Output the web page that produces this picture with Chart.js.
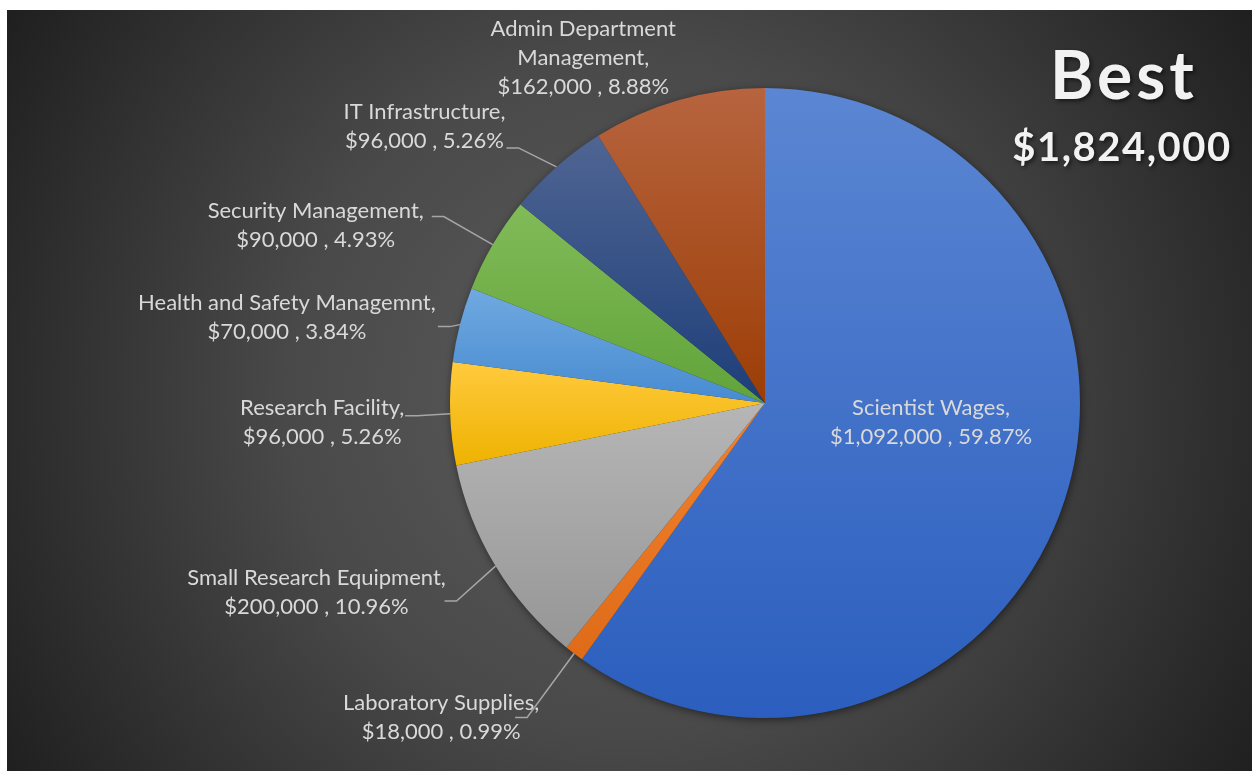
<!DOCTYPE html>
<html>
<head>
<meta charset="utf-8">
<script src="https://cdn.jsdelivr.net/npm/chart.js@4.4.1/dist/chart.umd.min.js"></script>
<style>
  html, body { margin: 0; padding: 0; background: #fff; }
  #wrap { width: 1252px; height: 772px; }
</style>
</head>
<body>
<div id="wrap"><canvas id="budgetPie" width="1252" height="772"></canvas></div>
<script>
// budget split, clockwise from 12 o'clock
const categories = [
  "Scientist Wages",
  "Laboratory Supplies",
  "Small Research Equipment",
  "Research Facility",
  "Health and Safety Managemnt",
  "Security Management",
  "IT Infrastructure",
  "Admin Department Management"
];
const amounts = [1092000, 18000, 200000, 96000, 70000, 90000, 96000, 162000];
const scenarioTitle = "Best";

// slice gradient stops (top colour, bottom colour)
const sliceTop    = ["#5b86d3", "#f2822f", "#b6b6b6", "#ffca3e", "#70a9e0", "#81bb58", "#4f6593", "#b7643f"];
const sliceBottom = ["#2b5ebe", "#df6b18", "#969696", "#eeb200", "#478bd1", "#61a33a", "#1e3e79", "#9c3d05"];

// where each label block sits relative to the slice's outer mid point;
// lx/ly = end of the leader stub relative to the block centre
const labelPlacement = [
  { dx: -134, dy: -77 },
  { dx: -133, dy: 64, lx: 74, ly: 0 },
  { dx: -179, dy: 26, lx: 128, ly: 9 },
  { dx: -128, dy: 9, lx: 83, ly: -7 },
  { dx: -173, dy: -7, lx: 151, ly: 9 },
  { dx: -177, dy: -19, lx: 116, ly: -9 },
  { dx: -132, dy: -40, lx: 82, ly: 21 },
  { dx: -95, dy: -42, wrap: 200 }
];

const LABEL_FONT = "22px Lato";
const LINE_H = 29;
const total = amounts.reduce((a, b) => a + b, 0);

function fmtMoney(n){ return "$" + String(n).replace(/\B(?=(\d{3})+(?!\d))/g, ","); }
function fmtPct(n){ return (n / total * 100).toFixed(2) + "%"; }

// vertical gradient over the bounding box of one slice
function sliceFill(context){
  const i = context.dataIndex;
  const chart = context.chart;
  const area = chart.chartArea;
  if(!area || i === undefined) return sliceTop[i] || "#888";
  const cx = (area.left + area.right) / 2, cy = (area.top + area.bottom) / 2;
  const r = Math.min(area.width, area.height) / 2;
  const before = amounts.slice(0, i).reduce((a, b) => a + b, 0);
  const a0 = -Math.PI / 2 + before / total * Math.PI * 2;
  const a1 = a0 + amounts[i] / total * Math.PI * 2;
  const ys = [cy, cy + r * Math.sin(a0), cy + r * Math.sin(a1)];
  [-Math.PI / 2, Math.PI / 2, Math.PI * 1.5].forEach(k => { if(k >= a0 && k <= a1) ys.push(cy + r * Math.sin(k)); });
  const g = chart.ctx.createLinearGradient(0, Math.min(...ys), 0, Math.max(...ys));
  g.addColorStop(0, sliceTop[i]);
  g.addColorStop(1, sliceBottom[i]);
  return g;
}

function wrapText(ctx, text, maxW){
  if(!maxW) return [text];
  const words = text.split(" ");
  const out = [];
  let line = "";
  words.forEach(w => {
    const t = line ? line + " " + w : w;
    if(ctx.measureText(t).width > maxW && line){ out.push(line); line = w; }
    else line = t;
  });
  out.push(line);
  return out;
}

// dark radial backdrop with a thin white margin top/left
const backdrop = {
  id: "backdrop",
  beforeDraw(chart){
    const ctx = chart.ctx;
    ctx.save();
    ctx.fillStyle = "#ffffff";
    ctx.fillRect(0, 0, chart.width, chart.height);
    const g = ctx.createRadialGradient(630, 395, 0, 630, 395, 760);
    g.addColorStop(0, "#5d5d5d");
    g.addColorStop(0.45, "#494949");
    g.addColorStop(1, "#1c1c1c");
    ctx.fillStyle = g;
    ctx.fillRect(7, 10, chart.width - 7, chart.height - 11);
    ctx.restore();
  }
};

// soft shadow under the pie
const pieShadow = {
  id: "pieShadow",
  beforeDatasetsDraw(chart){
    const arc = chart.getDatasetMeta(0).data[0];
    if(!arc) return;
    const ctx = chart.ctx;
    ctx.save();
    ctx.shadowColor = "rgba(0,0,0,0.55)";
    ctx.shadowBlur = 9;
    ctx.shadowOffsetX = 1;
    ctx.shadowOffsetY = 2;
    ctx.fillStyle = "#333";
    ctx.beginPath();
    ctx.arc(arc.x, arc.y, arc.outerRadius - 0.5, 0, Math.PI * 2);
    ctx.fill();
    ctx.restore();
  }
};

// category, value and share labels with leader lines
const sliceLabels = {
  id: "sliceLabels",
  afterDatasetsDraw(chart){
    const ctx = chart.ctx;
    const meta = chart.getDatasetMeta(0);
    ctx.save();
    ctx.font = LABEL_FONT;
    ctx.textAlign = "center";
    ctx.textBaseline = "middle";
    meta.data.forEach((arc, i) => {
      const { x, y, startAngle, endAngle, outerRadius } = arc.getProps(["x", "y", "startAngle", "endAngle", "outerRadius"], true);
      const mid = (startAngle + endAngle) / 2;
      const ex = x + Math.cos(mid) * outerRadius;
      const ey = y + Math.sin(mid) * outerRadius;
      const p = labelPlacement[i];
      const bx = ex + p.dx, by = ey + p.dy;

      if(p.lx !== undefined){
        const sx = bx + p.lx, sy = by + p.ly;
        ctx.strokeStyle = "#a6a6a6";
        ctx.lineWidth = 1.5;
        ctx.beginPath();
        ctx.moveTo(ex, ey);
        ctx.lineTo(sx + 12, sy);
        ctx.lineTo(sx, sy);
        ctx.stroke();
      }

      const lines = wrapText(ctx, categories[i] + ",", p.wrap);
      lines.push(fmtMoney(amounts[i]) + " , " + fmtPct(amounts[i]));
      ctx.fillStyle = "#d9d9d9";
      lines.forEach((t, k) => {
        ctx.fillText(t, bx, by + (k - (lines.length - 1) / 2) * LINE_H);
      });
    });
    ctx.restore();
  }
};

// scenario name and grand total, top right
const headline = {
  id: "headline",
  afterDraw(chart){
    const ctx = chart.ctx;
    ctx.save();
    ctx.textAlign = "center";
    ctx.textBaseline = "alphabetic";
    ctx.fillStyle = "#f2f2f2";
    ctx.shadowColor = "rgba(0,0,0,0.6)";
    ctx.shadowBlur = 4;
    ctx.shadowOffsetX = 2;
    ctx.shadowOffsetY = 2;
    ctx.font = "bold 66px Lato";
    ctx.letterSpacing = "4px";
    ctx.fillText(scenarioTitle, 1124, 99);
    ctx.letterSpacing = "1.5px";
    ctx.font = "bold 40px Lato";
    ctx.fillText(fmtMoney(total), 1122, 161);
    ctx.restore();
  }
};

new Chart(document.getElementById("budgetPie"), {
  type: "pie",
  data: {
    labels: categories,
    datasets: [{
      data: amounts,
      backgroundColor: sliceFill,
      borderWidth: 0,
      hoverOffset: 0
    }]
  },
  options: {
    responsive: false,
    animation: false,
    devicePixelRatio: 1,
    layout: { padding: { left: 450, right: 172, top: 88, bottom: 54 } },
    plugins: {
      legend: { display: false },
      tooltip: { enabled: false }
    }
  },
  plugins: [backdrop, pieShadow, sliceLabels, headline]
});
</script>
</body>
</html>
